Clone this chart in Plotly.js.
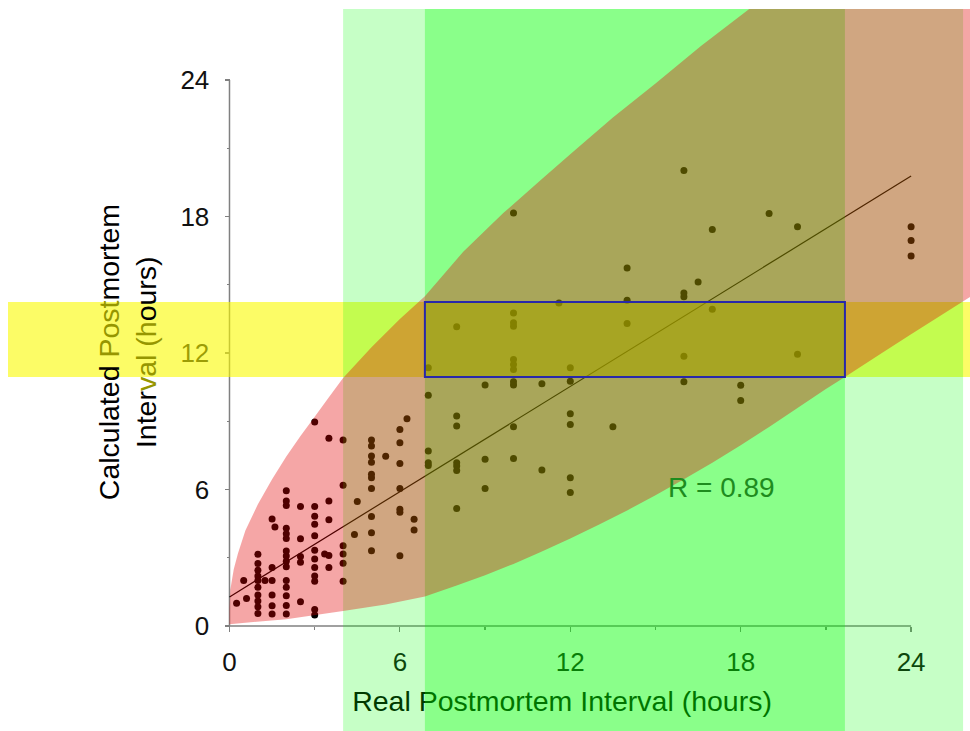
<!DOCTYPE html>
<html><head><meta charset="utf-8">
<script src="https://cdn.plot.ly/plotly-3.0.1.min.js"></script>
<style>html,body{margin:0;padding:0;background:#fff;}#chart{width:970px;height:731px;}</style>
</head><body><div id="chart"></div>
<script>
// ---- data ----
const realPMI = [16,10,19,17,20, 24,24,24, 14,16.5,16,16,14,11.6,17, 10,10,10,8,14,
  16,20,10,10,10,12,7, 9,10,10,11,12,16,18,18, 7,8,8,12,12,10,13.5,
  7,7,7,8,8,8,9,10,11, 12,12,9,8,
  3,3.5,4, 5,5,5,5,5,5,5,5,5,5, 5.5, 6,6.25,6,6,6,6,6,6, 6.5,6.5, 4,4.5,4.4,
  4,4,4,4, 3.5,3.5,3.35,3.5,3.5, 3,3,3,3,3,3,3,3,3,3,3, 2.5,2.5,2.5,2.5,2.5,
  2,2,2,2,2,2,2,2,2,2,2,2,2,2,2, 1.5,1.6,1.5,1.25,1.5,1.5,1.5,1.5,
  1,1,1,1,1,1,1,1,1,1, 0.5,0.6,0.25];
const calcPMI = [20.02,18.15,18.13,17.43,17.55, 17.55,16.95,16.26, 15.74,15.12,14.64,14.47,14.32,14.2,13.92, 13.76,13.33,13.18,13.15,13.3,
  11.86,11.94,11.72,11.5,11.28,11.35,11.35, 10.59,10.74,10.59,10.65,10.76,10.74,10.58,9.91, 10.14,9.23,8.79,9.33,8.86,8.76,8.76,
  7.69,7.18,7.06,7.18,7.03,6.84,7.33,7.36,6.86, 6.52,5.87,6.04,5.16,
  8.97,8.25,8.18, 8.18,7.91,7.47,7.2,6.67,6.52,6.04,4.81,4.1,3.31, 7.46, 8.64,9.11,8.06,7.14,6.04,5.13,5.0,3.09, 4.69,4.22, 6.19,5.47,4.02,
  3.53,3.16,2.76,1.97, 5.5,4.67,3.16,3.1,2.57, 5.25,4.82,4.47,3.97,3.33,2.95,2.57,2.2,1.97,0.73,0.48, 5.25,3.83,3.05,2.8,1.07,
  5.95,5.5,5.3,4.3,4.05,3.85,3.3,3.08,2.85,2.6,2.0,1.7,1.33,0.9,0.53, 4.7,4.35,2.57,2.0,2.0,1.36,0.89,0.53,
  3.15,2.75,2.45,2.2,2.0,1.7,1.36,1.1,0.85,0.55, 2.0,1.21,1.0];
const fitX = [0, 24];
const fitY = [1.28, 19.78];
const tickVals = [0, 6, 12, 18, 24];
const tickText = ['0', '6', '12', '18', '24'];
const minorTicks = [3, 9, 15, 21];
// boundary of the red region
const upperX = [0, 0.03, 0.15, 0.3, 0.56, 1.0, 1.5, 2.0, 2.5, 3.0, 3.5, 4.0, 5.0, 6.0, 6.88, 8.23, 9.64, 11.0, 12.1, 13.5, 15.0, 16.6, 18.3];
const upperY = [0.8, 1.6, 2.5, 3.2, 4.2, 5.35, 6.45, 7.45, 8.35, 9.2, 10.05, 10.9, 12.25, 13.5, 14.5, 16.45, 18.15, 19.65, 20.85, 22.35, 23.85, 25.5, 27.12];
const lowerX = [0, 2, 4, 5.5, 6.88, 8, 9, 10, 11, 12, 13, 14, 15, 16, 17, 18, 19, 20, 21, 21.67, 23, 24, 26.5];
const lowerY = [0.08, 0.3, 0.66, 0.95, 1.3, 1.78, 2.23, 2.73, 3.28, 3.85, 4.45, 5.08, 5.75, 6.45, 7.18, 7.95, 8.75, 9.58, 10.42, 10.95, 12.02, 12.82, 14.8];
const calcBand = [10.95, 14.24];
const realOuter = [4.0, 25.83];
const realInner = [6.88, 21.67];
const rText = 'R = 0.89';
const xTitle = 'Real Postmortem Interval (hours)';

// ---- layout geometry ----
const W = 970, H = 731;
const mL = 8, mR = 0, mT = 9, mB = 0;
const xRange = [-7.799, 26.074];
const yRange = [-4.615, 27.121];
const font = 'Liberation Sans, Arial, Helvetica, sans-serif';
const grey = 'rgb(128,128,128)';

let path = 'M ' + upperX[0] + ',' + upperY[0];
for (let i = 1; i < upperX.length; i++) path += ' L ' + upperX[i] + ',' + upperY[i];
path += ' L 27,' + upperY[upperY.length - 1] + ' L 27,' + lowerY[lowerY.length - 1];
for (let i = lowerX.length - 1; i >= 0; i--) path += ' L ' + lowerX[i] + ',' + lowerY[i];
path += ' Z';

const traces = [
  {x: realPMI, y: calcPMI, type: 'scatter', mode: 'markers',
   marker: {color: '#000', size: 7}, hoverinfo: 'skip', showlegend: false},
  {x: fitX, y: fitY, type: 'scatter', mode: 'lines',
   line: {color: '#000', width: 1.2}, hoverinfo: 'skip', showlegend: false},
  {x: [11.71], y: [-3.43], type: 'scatter', mode: 'text', text: [xTitle],
   textfont: {family: font, size: 28.5, color: '#000'}, textposition: 'middle center',
   hoverinfo: 'skip', showlegend: false}
];

const layout = {
  width: W, height: H,
  margin: {l: mL, r: mR, t: mT, b: mB},
  paper_bgcolor: '#fff', plot_bgcolor: '#fff',
  showlegend: false,
  font: {family: font, size: 26, color: '#111'},
  xaxis: {range: xRange, anchor: 'free', position: (731 - 626) / 722,
    showgrid: false, zeroline: false, showline: false,
    tickmode: 'array', tickvals: tickVals, ticktext: tickText,
    ticks: 'outside', ticklen: 5, tickwidth: 1.2, tickcolor: grey,
    ticklabelstandoff: 8,
    minor: {tickvals: minorTicks, ticks: 'outside', ticklen: 3, tickcolor: grey},
    tickfont: {family: font, size: 26, color: '#111'}, automargin: false},
  yaxis: {range: yRange, anchor: 'free', position: (229.5 - 8) / 962,
    showgrid: false, zeroline: false, showline: false,
    tickmode: 'array', tickvals: tickVals, ticktext: tickText,
    ticks: 'outside', ticklen: 5, tickwidth: 1.2, tickcolor: grey,
    ticklabelstandoff: 10,
    minor: {tickvals: minorTicks, ticks: 'outside', ticklen: 3, tickcolor: grey},
    tickfont: {family: font, size: 26, color: '#111'}, automargin: false},
  shapes: [
    {type: 'line', layer: 'below', xref: 'x', yref: 'y', x0: 0, x1: 0, y0: 0, y1: 24, line: {color: grey, width: 1.5}},
    {type: 'line', layer: 'below', xref: 'x', yref: 'y', x0: 0, x1: 24, y0: 0, y1: 0, line: {color: grey, width: 1.5}},
    {type: 'rect', layer: 'above', xref: 'x', yref: 'y', x0: -9, x1: 28, y0: calcBand[0], y1: calcBand[1],
     fillcolor: 'rgba(250,250,0,0.6)', line: {width: 0}},
    {type: 'rect', layer: 'above', xref: 'x', yref: 'y', x0: realOuter[0], x1: realOuter[1], y0: -6, y1: 29,
     fillcolor: 'rgba(0,255,0,0.224)', line: {width: 0}},
    {type: 'rect', layer: 'above', xref: 'x', yref: 'y', x0: realInner[0], x1: realInner[1], y0: -6, y1: 29,
     fillcolor: 'rgba(0,255,0,0.3)', line: {width: 0}},
    {type: 'path', layer: 'above', xref: 'x', yref: 'y', path: path,
     fillcolor: 'rgba(226,0,0,0.35)', line: {width: 0}},
    {type: 'rect', layer: 'above', xref: 'x', yref: 'y', x0: realInner[0], x1: realInner[1], y0: calcBand[0], y1: calcBand[1],
     fillcolor: 'rgba(0,0,0,0)', line: {color: 'rgb(40,40,170)', width: 2}}
  ],
  annotations: [
    {xref: 'x', yref: 'y', x: -4.24, y: 12.04, textangle: -90, showarrow: false,
     text: 'Calculated <span style="color:rgb(150,150,0)">Post</span>mortem',
     font: {family: font, size: 28.5, color: '#000'}},
    {xref: 'x', yref: 'y', x: -2.94, y: 12.04, textangle: -90, showarrow: false,
     text: 'Inter<span style="color:rgb(150,150,0)">val (h</span>ours)',
     font: {family: font, size: 28.5, color: '#000'}},
    {xref: 'x', yref: 'y', x: 17.32, y: 6.09, showarrow: false, text: rText,
     font: {family: font, size: 28, color: 'rgb(30,140,30)'}}
  ]
};

Plotly.newPlot('chart', traces, layout, {staticPlot: true, displayModeBar: false});
</script></body></html>
